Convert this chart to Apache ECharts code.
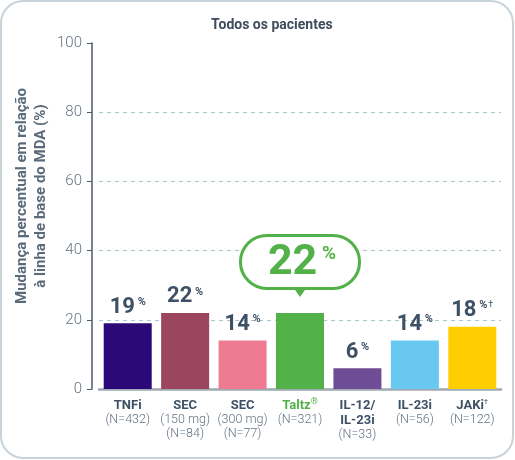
<!DOCTYPE html>
<html>
<head>
<meta charset="utf-8">
<script src="https://cdn.jsdelivr.net/npm/echarts@6/dist/echarts.min.js"></script>
<style>
  html, body { margin: 0; padding: 0; background: #fff; }
  #chart { width: 515px; height: 460px; }
</style>
</head>
<body>
<div id="chart"></div>
<script>
// dados do gráfico
const categorias = ['TNFi', 'SEC150', 'SEC300', 'Taltz', 'IL12', 'IL23', 'JAKi'];
const rotulos = [
  '{b|TNFi}\n{n|(N=432)}',
  '{b|SEC}\n{n|(150 mg)}\n{n|(N=84)}',
  '{b|SEC}\n{n|(300 mg)}\n{n|(N=77)}',
  '{g|Taltz}{gs|®}\n{n|(N=321)}',
  '{b|IL-12/}\n{b|IL-23i}\n{n|(N=33)}',
  '{b|IL-23i}\n{n|(N=56)}',
  '{b|JAKi}{bs|†}\n{n|(N=122)}'
];
const valores = [19, 22, 14, 22, 6, 14, 18];
const cores = ['#2b0a78', '#9c4560', '#ef7b93', '#52b148', '#6e4c96', '#68c8ef', '#ffcd00'];
const notas = ['', '', '', '', '', '', '†'];
const yTicks = [0, 20, 40, 60, 80, 100];

const fonte = 'Roboto, "Liberation Sans", sans-serif';
const escuro = '#3d5065';
const cinza = '#637282';
const verde = '#52b148';

let chart = echarts.init(document.getElementById('chart'));

let dados = valores.map(function (v, i) {
  let item = { value: v, itemStyle: { color: cores[i] } };
  if (categorias[i] === 'Taltz') {
    item.label = {
      show: true,
      position: 'top',
      distance: 26,
      formatter: '{big|' + v + '}{bp| %}',
      backgroundColor: '#fff',
      borderColor: verde,
      borderWidth: 3,
      borderRadius: 26,
      padding: [3, 22, 1, 26],
      rich: {
        big: { fontFamily: fonte, fontWeight: 'bold', fontSize: 43, color: verde, lineHeight: 46 },
        bp: { fontFamily: fonte, fontWeight: 'bold', fontSize: 19, color: verde, padding: [0, 0, 18, 0] }
      }
    };
  }
  return item;
});

let option = {
  animation: false,
  backgroundColor: '#fff',
  graphic: [{
    type: 'rect',
    shape: { x: 1, y: 1, width: 512, height: 457, r: 22 },
    style: { fill: 'none', stroke: '#c8d3da', lineWidth: 2 },
    silent: true
  }],
  title: {
    text: 'Todos os pacientes',
    left: 206,
    top: 13,
    textStyle: { fontFamily: fonte, fontWeight: 'bold', fontSize: 14, color: '#3e4c5c' }
  },
  grid: { left: 99, right: 14, top: 43, bottom: 71, outerBoundsMode: 'none', containLabel: false },
  xAxis: {
    type: 'category',
    data: categorias,
    axisLine: { lineStyle: { color: '#9fa9b1', width: 2.5 } },
    axisTick: { show: false },
    axisLabel: {
      interval: 0,
      margin: 9,
      lineHeight: 14,
      formatter: function (val, idx) { return rotulos[idx]; },
      rich: {
        b: { fontFamily: fonte, fontWeight: 'bold', fontSize: 13, color: escuro, lineHeight: 15 },
        bs: { fontFamily: fonte, fontSize: 8, color: escuro, padding: [0, 0, 7, 0] },
        g: { fontFamily: fonte, fontWeight: 'bold', fontSize: 13, color: verde, lineHeight: 15 },
        gs: { fontFamily: fonte, fontSize: 9, color: verde, padding: [0, 0, 7, 0] },
        n: { fontFamily: fonte, fontWeight: 300, fontSize: 12.5, color: cinza, lineHeight: 14 }
      }
    }
  },
  yAxis: {
    type: 'value',
    min: 0,
    max: 100,
    interval: 20,
    offset: 7,
    name: 'Mudança percentual em relação\nà linha de base do MDA (%)',
    nameLocation: 'middle',
    nameGap: 41,
    nameRotate: 90,
    nameMoveOverlap: false,
    nameTextStyle: {
      fontFamily: fonte, fontWeight: 'bold', fontSize: 15, color: '#5b6a78',
      lineHeight: 19, padding: [0, 0, 0, 40]
    },
    axisLine: { show: true, lineStyle: { color: '#4a5866', width: 1.5 } },
    axisTick: { show: true, length: 5, lineStyle: { color: '#4a5866' } },
    axisLabel: {
      margin: 10,
      fontFamily: fonte,
      fontWeight: 300,
      fontSize: 15,
      color: cinza,
      formatter: function (v) { return yTicks.indexOf(v) >= 0 ? String(v) : ''; }
    },
    splitLine: {
      show: true,
      lineStyle: {
        color: ['rgba(0,0,0,0)', '#a9c4cd', '#a9c4cd', '#a9c4cd', '#a9c4cd', 'rgba(0,0,0,0)'],
        type: [4, 4],
        width: 1
      }
    }
  },
  series: [{
    type: 'bar',
    data: dados,
    barWidth: 48,
    label: {
      show: true,
      position: 'top',
      distance: 4,
      formatter: function (p) {
        return '{v|' + p.value + '}{p| %}' + (notas[p.dataIndex] ? '{d|' + notas[p.dataIndex] + '}' : '');
      },
      rich: {
        v: { fontFamily: fonte, fontWeight: 'bold', fontSize: 22, color: escuro, lineHeight: 24 },
        p: { fontFamily: fonte, fontWeight: 'bold', fontSize: 11, color: escuro, padding: [0, 0, 10, 0] },
        d: { fontFamily: fonte, fontSize: 9, color: escuro, padding: [0, 0, 12, 1] }
      }
    },
    markPoint: {
      silent: true,
      symbol: 'triangle',
      symbolRotate: 180,
      symbolSize: [14, 10],
      itemStyle: { color: verde },
      label: { show: false },
      data: [{ coord: ['Taltz', valores[categorias.indexOf('Taltz')]], symbolOffset: [0, -21] }]
    }
  }]
};

chart.setOption(option);
</script>
</body>
</html>
